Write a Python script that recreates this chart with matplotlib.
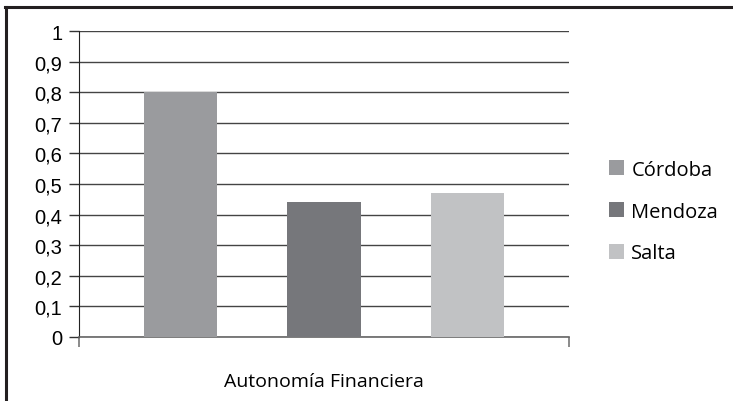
import numpy as np
import matplotlib.pyplot as plt
from matplotlib.lines import Line2D

# data
category = "Autonomía Financiera"
provinces = ["Córdoba", "Mendoza", "Salta"]
values = [0.8, 0.44, 0.47]
colors = ["#9a9b9e", "#76777b", "#c1c2c4"]
yticks = [0, 0.1, 0.2, 0.3, 0.4, 0.5, 0.6, 0.7, 0.8, 0.9, 1]
ytick_labels = ["0", "0,1", "0,2", "0,3", "0,4", "0,5", "0,6", "0,7", "0,8", "0,9", "1"]

fig = plt.figure(figsize=(7.33, 4.02), dpi=100)
ax = fig.add_axes([79/733, 64/402, 490/733, 306/402])

offsets = np.array([-0.2925, 0.0, 0.2925])
for i in range(len(provinces)):
    ax.bar(offsets[i], values[i], width=0.15, color=colors[i], zorder=3, label=provinces[i])

ax.set_xlim(-0.5, 0.5)
ax.set_ylim(0, 1)
ax.set_yticks(yticks)
ax.set_yticklabels(ytick_labels, fontname="Liberation Sans", fontsize=14.5)
ax.yaxis.grid(True, color="#444444", linewidth=1.0, zorder=0)
ax.tick_params(axis="y", length=7, width=1, color="#333333", pad=5)

# category boundaries on the x axis
ax.set_xticks([-0.5, 0.5])
ax.set_xticklabels(["", ""])
ax.tick_params(axis="x", length=7, width=1.2, color="#777777")
ax.set_xlabel(category, fontname="Open Sans", fontsize=14, labelpad=15)

for s in ["top", "right"]:
    ax.spines[s].set_visible(False)
ax.spines["left"].set_color("#222222")
ax.spines["bottom"].set_color("#666666")
ax.spines["bottom"].set_linewidth(1.2)

ax.legend(loc="center left", bbox_to_anchor=(1.045, 0.41), frameon=False,
          prop={"family": "Open Sans", "size": 14.5}, handlelength=0.75,
          handleheight=0.75, handletextpad=0.35, labelspacing=1.08)

# outer frame (only top and left visible)
fig.add_artist(Line2D([5/733, 1], [1 - 7.5/402, 1 - 7.5/402], color="#231f20", linewidth=2.2))
fig.add_artist(Line2D([5.5/733, 5.5/733], [0, 1 - 7.5/402], color="#231f20", linewidth=2.2))

fig.savefig("out.png", dpi=100)
